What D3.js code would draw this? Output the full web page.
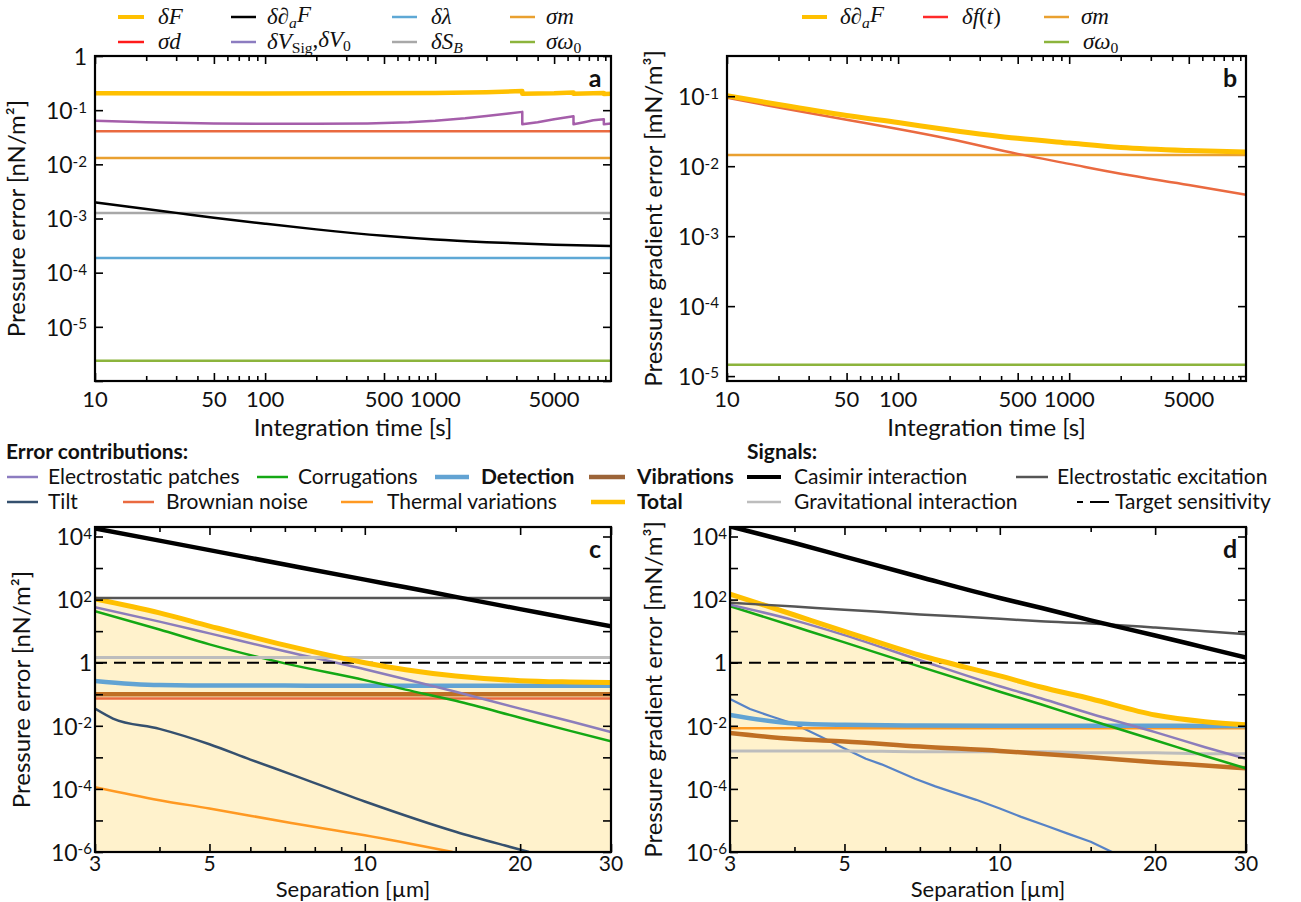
<!DOCTYPE html>
<html><head><meta charset="utf-8">
<script src="https://cdn.jsdelivr.net/npm/d3@7"></script>
<style>
body{margin:0;background:#fff}
svg text{font-family:Lato,'Open Sans',sans-serif;fill:#111}
svg text.math{font-family:'Liberation Serif','DejaVu Serif',serif;font-style:italic}
</style>
</head><body>
<svg id="chart" width="1301" height="902"></svg>
<script>
// ---------------- DATA ----------------
// Panel a / b : integration time [s]
const timeGrid = [10, 20, 50, 100, 200, 500, 1000, 2000, 5000, 10800];
const timeFlat = [10, 10800];

const aDeltaFTime  = [10, 100, 1000, 2000, 3250, 3250, 5000, 6500, 6500, 8500, 9800, 9800, 10800];
const aDeltaFValue = [0.205, 0.203, 0.207, 0.215, 0.225, 0.2, 0.205, 0.212, 0.2, 0.205, 0.208, 0.198, 0.2];
const aDeltaVTime  = [10, 20, 50, 100, 200, 400, 700, 1000, 1500, 2000, 2700, 3250, 3250, 4000, 5000, 6500, 6500, 7500, 8500, 9800, 9800, 10800];
const aDeltaVValue = [0.064, 0.06, 0.057, 0.056, 0.056, 0.057, 0.06, 0.064, 0.071, 0.078, 0.087, 0.093, 0.055, 0.06, 0.068, 0.077, 0.055, 0.06, 0.065, 0.068, 0.055, 0.057];
const aSigmaD      = [0.041, 0.041];
const aSigmaM      = [0.0131, 0.0131];
const aDeltaSB     = [0.00126, 0.00126];
const aDaFTime     = [10, 20, 30, 50, 100, 200, 500, 1000, 2000, 5000, 10800];
const aDeltaDaF    = [1.98e-3, 1.5e-3, 1.27e-3, 1.03e-3, 8.0e-4, 6.3e-4, 4.8e-4, 4.1e-4, 3.66e-4, 3.27e-4, 3.09e-4];
const aDeltaLambda = [1.86e-4, 1.86e-4];
const aSigmaOmega  = [2.36e-6, 2.36e-6];

const bDeltaDaF    = [0.102, 0.076, 0.053, 0.042, 0.033, 0.025, 0.0214, 0.0185, 0.0167, 0.0159];
const bDeltaFt     = [0.095, 0.069, 0.046, 0.034, 0.0245, 0.015, 0.0108, 0.0078, 0.0054, 0.0039];
const bSigmaM      = [0.0145, 0.0145];
const bSigmaOmega  = [1.45e-5, 1.45e-5];

const timeTickLabels = [10, 50, 100, 500, 1000, 5000];
const timeMinorTicks = [20, 30, 40, 60, 70, 80, 90, 200, 300, 400, 600, 700, 800, 900, 2000, 3000, 4000, 6000, 7000, 8000, 9000, 10000];

// Panel c / d : separation [µm]
const sepGrid = [3, 4, 5, 7, 10, 12, 15, 20, 25, 30];
const sepFlat = [3, 30];

const cCasimir     = [1.8e4, 7.4e3, 3.7e3, 1.3e3, 430, 245, 122, 50, 25, 14.3];
const cExcitation  = [112, 112];
const cGravity     = [1.45, 1.45];
const cTarget      = [1, 1];
const cTotal       = [105, 38, 14.5, 3.6, 1.0, 0.6, 0.38, 0.27, 0.245, 0.235];
const cPatches     = [57, 20, 8.5, 2.3, 0.62, 0.3, 0.12, 0.035, 0.014, 0.0063];
const cCorrugation = [43, 11.3, 3.8, 0.95, 0.28, 0.14, 0.062, 0.018, 0.0069, 0.0032];
const cDetection   = [0.265, 0.195, 0.19, 0.188, 0.186, 0.186, 0.186, 0.186, 0.186, 0.186];
const cVibration   = [0.1, 0.1];
const cBrownian    = [0.074, 0.074];
const cTiltSep     = [3, 3.25, 4, 5, 6, 7.2, 10, 15, 18.7, 20.8];
const cTilt        = [0.035, 0.017, 0.008, 0.0026, 8.5e-4, 2.9e-4, 4e-5, 4.4e-6, 1.6e-6, 1e-6];
const cThermalSep  = [3, 4, 5, 7.2, 10, 14.8];
const cThermal     = [1.14e-4, 4.4e-5, 2.4e-5, 8.3e-6, 3.4e-6, 1e-6];

const dCasimir     = [2.1e4, 6.2e3, 2.3e3, 520, 112, 55, 22, 7.3, 3.0, 1.45];
const dExcitation  = [80, 60, 48, 34, 24.6, 20.5, 17.5, 13, 10, 8];
const dGravity     = [0.0016, 0.0016, 0.0016, 0.0015, 0.0015, 0.0015, 0.0014, 0.0014, 0.0013, 0.0013];
const dTarget      = [1, 1];
const dTotal       = [150, 32.5, 9.9, 1.72, 0.38, 0.17, 0.072, 0.022, 0.0135, 0.0108];
const dPatches     = [69, 22, 7.5, 1.2, 0.18, 0.075, 0.024, 0.0063, 0.0021, 0.0009];
const dCorrugation = [62, 14, 4.4, 0.75, 0.12, 0.048, 0.015, 0.0035, 0.0011, 0.00045];
const dDetection   = [0.022, 0.0118, 0.0107, 0.0102, 0.01, 0.01, 0.01, 0.01, 0.0099, 0.0099];
const dThermal     = [0.0083, 0.0083];
const dVibration   = [0.0059, 0.0038, 0.0032, 0.0022, 0.0016, 0.0013, 0.001, 0.0007, 0.00055, 0.00045];
const dTiltSep     = [3, 3.28, 3.6, 4, 4.5, 5, 5.5, 5.9, 6.85, 7.5, 8.1, 9, 10, 11, 12.3, 13.5, 15, 16.5];
const dTilt        = [0.071, 0.034, 0.02, 0.0114, 0.0045, 0.0019, 9e-4, 6e-4, 2.1e-4, 1.2e-4, 7.9e-5, 4.5e-5, 2.4e-5, 1.3e-5, 6.8e-6, 3.9e-6, 2.1e-6, 1e-6];

const sepTickLabels = [3, 5, 10, 20, 30];
const sepMinorTicks = [4, 6, 7, 8, 9, 15];

// ---------------- DRAWING ----------------
const svg = d3.select('#chart');
const C = {
  yellow:'#FFC000', black:'#000', blue:'#5EA8D5', orange:'#E9A030', red:'#EA6A40', purpleA:'#A55EAA',
  gray:'#A8A8A8', green:'#8CB43C', lav:'#8C7DBB', corr:'#14A814', tilt:'#35506E', tiltD:'#5783C6',
  thermal:'#FF9922', det:'#62A3D3', vib:'#BF6F24', exc:'#555555', grav:'#BDBDBD', fill:'#FFF2CC'
};

function pairs(xs, ys){ return xs.map((v,i)=>[v, ys[i]]); }

function supLabel(sel, v){
  const e = Math.round(Math.log10(v));
  if (e === 0) { sel.text('1'); return; }
  sel.text('10');
  sel.append('tspan').attr('dy','-0.42em').attr('font-size','0.66em').text(String(e));
}

function makePanel(p){
  const x = d3.scaleLog().domain(p.xDomain).range([p.left, p.right]);
  const y = d3.scaleLog().domain(p.yDomain).range([p.bottom, p.top]);
  const g = svg.append('g');
  const cid = 'clip-' + p.id;
  svg.append('clipPath').attr('id', cid).append('rect')
    .attr('x', p.left).attr('y', p.top).attr('width', p.right - p.left).attr('height', p.bottom - p.top);
  const plot = g.append('g').attr('clip-path', `url(#${cid})`);
  if (p.fill){
    const area = d3.area().x(d=>x(d[0])).y0(p.bottom).y1(d=>y(d[1])).curve(d3.curveMonotoneX);
    plot.append('path').attr('d', area(p.fill)).attr('fill', C.fill);
  }
  p.series.forEach(s=>{
    const line = d3.line().x(d=>x(d[0])).y(d=>y(d[1])).curve(s.curve || d3.curveMonotoneX);
    plot.append('path').attr('d', line(s.data)).attr('fill','none')
      .attr('stroke', s.color).attr('stroke-width', s.width)
      .attr('stroke-dasharray', s.dash || null).attr('stroke-linejoin','round');
  });
  const tk = (axis, vals, len, tr) => {
    const a = g.append('g').attr('transform', tr).call(axis.tickValues(vals).tickSize(-len).tickFormat(''));
    a.select('.domain').remove();
    a.selectAll('line').attr('stroke','#000').attr('stroke-width',1.6);
  };
  tk(d3.axisBottom(x), p.xMajor, 8, `translate(0,${p.bottom})`);
  tk(d3.axisTop(x), p.xMajor, 8, `translate(0,${p.top})`);
  tk(d3.axisBottom(x), p.xMinor, 5, `translate(0,${p.bottom})`);
  tk(d3.axisTop(x), p.xMinor, 5, `translate(0,${p.top})`);
  tk(d3.axisLeft(y), p.yTicks, 8, `translate(${p.left},0)`);
  tk(d3.axisRight(y), p.yTicks, 8, `translate(${p.right},0)`);
  g.append('rect').attr('x', p.left).attr('y', p.top).attr('width', p.right - p.left).attr('height', p.bottom - p.top)
    .attr('fill','none').attr('stroke','#000').attr('stroke-width',2.2);
  p.yLabels.forEach(v=>{
    const t = g.append('text').attr('x', p.left - p.yLabelGap).attr('y', y(v)).attr('dy','0.38em')
      .attr('text-anchor','end').attr('font-size', 23);
    supLabel(t, v);
  });
  p.xLabels.forEach(v=>{
    g.append('text').attr('x', x(v)).attr('y', p.bottom + p.xLabelDy).attr('text-anchor','middle')
      .attr('font-size', p.xLabelSize).text(String(v));
  });
  g.append('text').attr('x', (p.left + p.right)/2).attr('y', p.bottom + p.xTitleDy)
    .attr('text-anchor','middle').attr('font-size', p.xTitleSize).text(p.xTitle);
  const yc = (p.top + p.bottom)/2;
  g.append('text').attr('transform', `translate(${p.yTitleX},${yc}) rotate(-90)`)
    .attr('text-anchor','middle').attr('font-size', 24).text(p.yTitle);
  g.append('text').attr('x', p.right - 16).attr('y', p.top + 31).attr('text-anchor','middle')
    .attr('font-size', 25).attr('font-weight', 'bold').text(p.id);
}

const decades = (a,b)=>d3.range(a,b+1).map(e=>Math.pow(10,e));

makePanel({
  id:'a', left:95, right:611, top:56, bottom:381, xDomain:[10,10800], yDomain:[1e-6,1],
  xMajor: timeTickLabels, xMinor: timeMinorTicks, yTicks: decades(-6,0),
  yLabels: decades(-5,0), xLabels: timeTickLabels, yLabelGap: 8,
  xLabelDy: 26, xLabelSize: 22, xTitleDy: 55, xTitleSize: 24,
  xTitle:'Integration time [s]', yTitle:'Pressure error [nN/m²]', yTitleX:25,
  series:[
    {data:pairs(timeFlat,aSigmaOmega), color:C.green, width:2.5},
    {data:pairs(timeFlat,aDeltaLambda), color:C.blue, width:2.5},
    {data:pairs(timeFlat,aDeltaSB), color:C.gray, width:2.5},
    {data:pairs(aDaFTime,aDeltaDaF), color:C.black, width:2.5},
    {data:pairs(timeFlat,aSigmaM), color:C.orange, width:2.5},
    {data:pairs(timeFlat,aSigmaD), color:C.red, width:2.5},
    {data:pairs(aDeltaVTime,aDeltaVValue), color:C.purpleA, width:2.5, curve:d3.curveLinear},
    {data:pairs(aDeltaFTime,aDeltaFValue), color:C.yellow, width:4.5, curve:d3.curveLinear}
  ]
});

makePanel({
  id:'b', left:727, right:1246, top:56, bottom:381, xDomain:[10,10800], yDomain:[Math.pow(10,-5.07),Math.pow(10,-0.425)],
  xMajor: timeTickLabels, xMinor: timeMinorTicks, yTicks: decades(-5,-1),
  yLabels: decades(-5,-1), xLabels: timeTickLabels, yLabelGap: 8,
  xLabelDy: 26, xLabelSize: 22, xTitleDy: 55, xTitleSize: 24,
  xTitle:'Integration time [s]', yTitle:'Pressure gradient error [mN/m³]', yTitleX:662,
  series:[
    {data:pairs(timeFlat,bSigmaOmega), color:C.green, width:2.5},
    {data:pairs(timeFlat,bSigmaM), color:C.orange, width:2.5},
    {data:pairs(timeGrid,bDeltaFt), color:C.red, width:2.5},
    {data:pairs(timeGrid,bDeltaDaF), color:C.yellow, width:5}
  ]
});

makePanel({
  id:'c', left:95, right:611, top:527, bottom:852, xDomain:[3,30], yDomain:[1e-6,2e4],
  xMajor: sepTickLabels, xMinor: sepMinorTicks, yTicks: decades(-6,4),
  yLabels: [1e4,1e2,1,1e-2,1e-4,1e-6], xLabels: sepTickLabels, yLabelGap: 3,
  xLabelDy: 19, xLabelSize: 21, xTitleDy: 45, xTitleSize: 22,
  xTitle:'Separation [µm]', yTitle:'Pressure error [nN/m²]', yTitleX:30,
  fill: pairs(sepGrid, cTotal),
  series:[
    {data:pairs(cThermalSep,cThermal), color:C.thermal, width:2.5},
    {data:pairs(cTiltSep,cTilt), color:C.tilt, width:2.5},
    {data:pairs(sepFlat,cBrownian), color:C.red, width:2.5},
    {data:pairs(sepFlat,cVibration), color:C.vib, width:4.5},
    {data:pairs(sepGrid,cDetection), color:C.det, width:4.5},
    {data:pairs(sepGrid,cCorrugation), color:C.corr, width:2.5},
    {data:pairs(sepGrid,cPatches), color:C.lav, width:2.5},
    {data:pairs(sepFlat,cGravity), color:C.grav, width:3},
    {data:pairs(sepFlat,cTarget), color:'#000', width:2, dash:'12,7'},
    {data:pairs(sepGrid,cTotal), color:C.yellow, width:5},
    {data:pairs(sepFlat,cExcitation), color:C.exc, width:2.5},
    {data:pairs(sepGrid,cCasimir), color:C.black, width:4.5}
  ]
});

makePanel({
  id:'d', left:730, right:1246, top:527, bottom:852, xDomain:[3,30], yDomain:[1e-6,2e4],
  xMajor: sepTickLabels, xMinor: sepMinorTicks, yTicks: decades(-6,4),
  yLabels: [1e4,1e2,1,1e-2,1e-4,1e-6], xLabels: sepTickLabels, yLabelGap: 3,
  xLabelDy: 19, xLabelSize: 21, xTitleDy: 45, xTitleSize: 22,
  xTitle:'Separation [µm]', yTitle:'Pressure gradient error [mN/m³]', yTitleX:662,
  fill: pairs(sepGrid, dTotal),
  series:[
    {data:pairs(dTiltSep,dTilt), color:C.tiltD, width:2.2, curve:d3.curveLinear},
    {data:pairs(sepGrid,dGravity), color:C.grav, width:3},
    {data:pairs(sepGrid,dVibration), color:C.vib, width:4.5},
    {data:pairs(sepFlat,dThermal), color:C.thermal, width:2.5},
    {data:pairs(sepGrid,dDetection), color:C.det, width:4.5},
    {data:pairs(sepGrid,dCorrugation), color:C.corr, width:2.5},
    {data:pairs(sepGrid,dPatches), color:C.lav, width:2.5},
    {data:pairs(sepFlat,dTarget), color:'#000', width:2, dash:'12,7'},
    {data:pairs(sepGrid,dTotal), color:C.yellow, width:5},
    {data:pairs(sepGrid,dExcitation), color:C.exc, width:2.5},
    {data:pairs(sepGrid,dCasimir), color:C.black, width:4.5}
  ]
});

// ---------------- LEGENDS ----------------
const leg = svg.append('g');
function mathText(x, y, parts){
  const t = leg.append('text').attr('class','math').attr('x', x).attr('y', y).attr('font-size', 23);
  let shifted = false;
  parts.forEach(([s, k])=>{
    const ts = t.append('tspan').text(s);
    if (k === 'sub' || k === 'subr'){
      if (!shifted) ts.attr('dy','0.25em');
      shifted = true;
      ts.attr('font-size','0.68em');
      if (k === 'subr') ts.attr('font-style','normal');
    } else {
      if (shifted) ts.attr('dy','-0.25em');
      shifted = false;
      if (k === 'r') ts.attr('font-style','normal');
    }
  });
}
function sym(x1, x2, y, color, w, dash){
  leg.append('line').attr('x1',x1).attr('x2',x2).attr('y1',y).attr('y2',y)
    .attr('stroke',color).attr('stroke-width',w).attr('stroke-dasharray',dash||null);
}
const r1 = 17, r2 = 42;
sym(118,144,r1,C.yellow,4); mathText(158,r1+7,[['δF','i']]);
sym(231,256,r1,'#000',2.5); mathText(267,r1+7,[['δ∂','i'],['a','sub'],['F','i']]);
sym(392,417,r1,C.blue,2.5); mathText(431,r1+7,[['δλ','i']]);
sym(510,535,r1,C.orange,2.5); mathText(546,r1+7,[['σm','i']]);
sym(118,144,r2,'#FF1A1A',2.5); mathText(158,r2+7,[['σd','i']]);
sym(231,256,r2,'#8C7CC0',2.5); mathText(267,r2+7,[['δV','i'],['Sig','subr'],[',','r'],['δV','i'],['0','subr']]);
sym(392,417,r2,C.gray,2.5); mathText(431,r2+7,[['δS','i'],['B','sub']]);
sym(510,535,r2,C.green,2.5); mathText(546,r2+7,[['σω','i'],['0','subr']]);
sym(802,827,r1,C.yellow,4); mathText(840,r1+7,[['δ∂','i'],['a','sub'],['F','i']]);
sym(923,948,r1,'#FF2A2A',2.5); mathText(962,r1+7,[['δf','i'],['(','r'],['t','i'],[')','r']]);
sym(1044,1069,r1,C.orange,2.5); mathText(1081,r1+7,[['σm','i']]);
sym(1044,1069,r2,C.green,2.5); mathText(1083,r2+7,[['σω','i'],['0','subr']]);

function label(x, y, s, bold){
  leg.append('text').attr('x',x).attr('y',y).attr('font-size',21).attr('font-weight',bold?'bold':null).text(s);
}
const m0 = 459, m1 = 484, m2 = 509;
label(6, m0, 'Error contributions:', true);
sym(7,38,m1-7,'#8C7CC0',2.5); label(48,m1,'Electrostatic patches');
sym(257,288,m1-7,C.corr,2.5); label(298,m1,'Corrugations');
sym(435,469,m1-7,C.det,4.5); label(481,m1,'Detection',true);
sym(589,625,m1-7,'#9C6438',4.5); label(637,m1,'Vibrations',true);
sym(7,38,m2-7,C.tilt,2.5); label(48,m2,'Tilt');
sym(123,154,m2-7,C.red,2.5); label(166,m2,'Brownian noise');
sym(341,373,m2-7,C.thermal,2.5); label(387,m2,'Thermal variations');
sym(591,625,m2-7,C.yellow,4.5); label(637,m2,'Total',true);

label(747, m0, 'Signals:', true);
sym(747,781,m1-7,'#000',4); label(794,m1,'Casimir interaction');
sym(1016,1048,m1-7,C.exc,2.5); label(1057,m1,'Electrostatic excitation');
sym(747,781,m2-7,C.grav,2.5); label(794,m2,'Gravitational interaction');
sym(1077,1109,m2-7,'#000',2,'6,7,19'); label(1115,m2,'Target sensitivity');
</script>
</body></html>
